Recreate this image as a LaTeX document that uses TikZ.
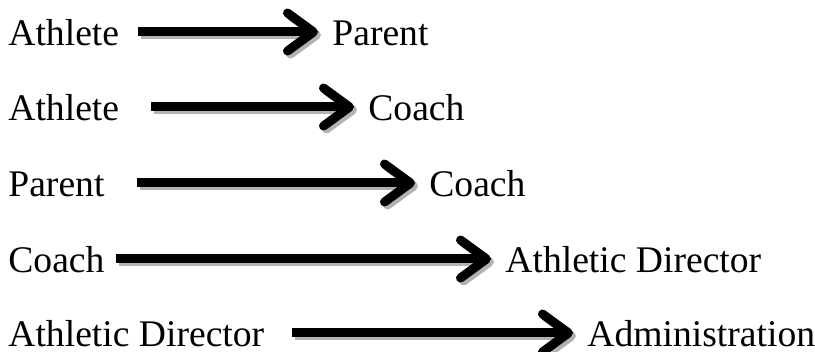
\documentclass[tikz,border=0pt]{standalone}
\usepackage{fontspec}
\setmainfont{Liberation Serif}
\usetikzlibrary{arrows.meta}

\begin{document}
\begin{tikzpicture}[x=0.5pt,y=-0.5pt,
	lab/.style={anchor=base west,inner sep=0pt,font=\fontsize{18.8}{20}\selectfont},
	flow/.style={line width=4.5pt,shorten >=7pt,-{Straight Barb[length=13pt,width=19pt,round]}},
	flowshade/.style={flow,draw=gray!60,transform canvas={shift={(1.5pt,-1.5pt)}}}]
	\useasboundingbox (0,0) rectangle (815,352);
	\foreach \i/\y/\ltext/\xs/\xr/\rtext in {
		1/46/Athlete/138/332/Parent,
		2/121/Athlete/151/368/Coach,
		3/197/Parent/137/429/Coach,
		4/273/Coach/116/505/Athletic Director,
		5/347/Athletic Director/292/587/Administration} {
		\node[lab] (l\i) at (8,\y) {\ltext};
		\node[lab] (r\i) at (\xr,\y) {\rtext};
		\coordinate (s\i) at (\xs,\y-14);
		\draw[flowshade] (s\i) -- (s\i -| r\i.west);
		\draw[flow] (s\i) -- (s\i -| r\i.west);
	}
\end{tikzpicture}
\end{document}
